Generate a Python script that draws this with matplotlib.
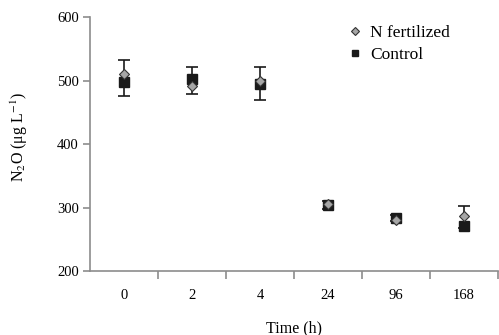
import matplotlib.pyplot as plt
import numpy as np

plt.rcParams['font.family'] = ['Liberation Serif', 'DejaVu Serif']
plt.rcParams['mathtext.fontset'] = 'stix'

times = ['0', '2', '4', '24', '96', '168']
fert = [510, 492, 500, 305, 280, 287]
control = [497, 503, 494, 304, 284, 271]
# visible error bar extent (lower / upper bound) at each time
bar_lo = [476, 479, 470, 298, 279, 268]
bar_hi = [532, 522, 522, 311, 288, 302]

x = np.arange(len(times))
axis_col = '#8c8c8c'

fig = plt.figure(figsize=(4.99, 3.35), dpi=100)
ax = fig.add_axes([0.180, 0.191, 0.818, 0.758])

mid = (np.array(bar_lo) + np.array(bar_hi)) / 2
half = (np.array(bar_hi) - np.array(bar_lo)) / 2
ax.errorbar(x, mid, yerr=half, fmt='none', ecolor='#1a1a1a', elinewidth=1.2,
            capsize=4.5, capthick=1.2, zorder=2)
ax.plot(x, control, 's', color='#1a1a1a', markersize=6.5, label='Control', zorder=3)
ax.plot(x, fert, 'D', color='#a6a6a6', markeredgecolor='#333333', markeredgewidth=0.8,
        markersize=5.5, label='N fertilized', zorder=4)

ax.set_xlim(-0.5, len(times) - 0.5)
ax.set_ylim(200, 600)
ax.set_yticks([200, 300, 400, 500, 600])
ax.set_xticks(x)
ax.set_xticklabels(times)
ax.set_xticks(np.arange(0.5, len(times), 1), minor=True)
ax.tick_params(axis='x', which='major', length=0, pad=13, labelsize=10.5)
ax.tick_params(axis='x', which='minor', length=6, color=axis_col, width=1.2, direction='out')
ax.tick_params(axis='y', length=5, color=axis_col, width=1.2, labelsize=10.5, pad=3)

for s in ['top', 'right']:
    ax.spines[s].set_visible(False)
for s in ['left', 'bottom']:
    ax.spines[s].set_color(axis_col)
    ax.spines[s].set_linewidth(1.2)

ax.set_xlabel('Time (h)', fontsize=11.5, labelpad=13)
ax.set_ylabel(r'N$_2$O (μg L$^{-1}$)', fontsize=11.5, labelpad=19)
ax.yaxis.label.set_y(0.53)

handles, labels = ax.get_legend_handles_labels()
ax.legend(handles[::-1], labels[::-1], loc='upper right', bbox_to_anchor=(0.92, 1.03),
          frameon=False, fontsize=12.5, handlelength=0.7, handletextpad=0.5,
          labelspacing=0.3, markerscale=0.75)

fig.savefig('out.png', dpi=100)
